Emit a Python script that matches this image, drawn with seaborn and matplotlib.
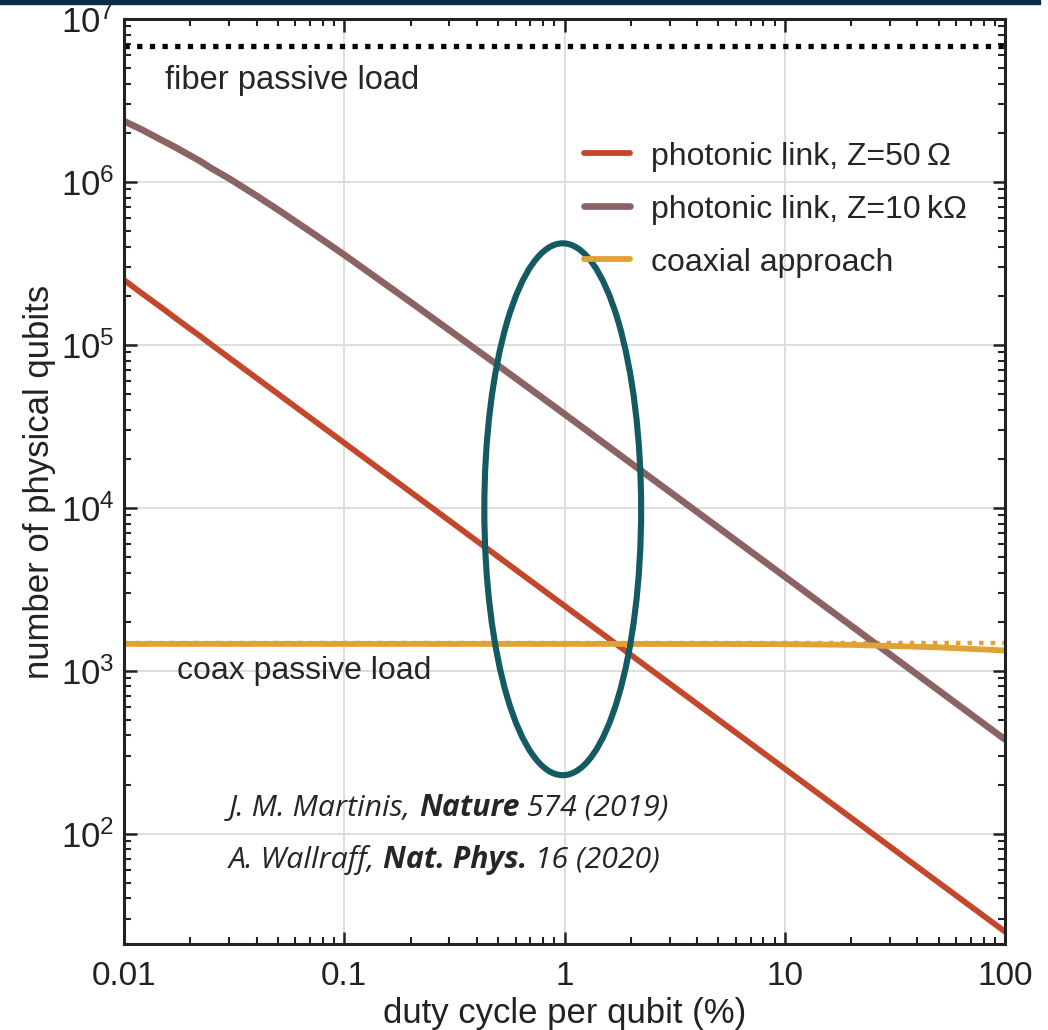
import numpy as np
import matplotlib.pyplot as plt
import pandas as pd
import seaborn as sns
from matplotlib.patches import Ellipse, Rectangle

# values (log-log)
duty = [0.01, 0.012, 0.015, 0.017, 0.02, 0.022, 0.025, 0.03, 0.04, 0.05, 0.07, 0.1, 0.2, 0.5,
        1, 2, 5, 10, 20, 50, 100]
link_50 = [2.5e5, 2.08e5, 1.67e5, 1.47e5, 1.25e5, 1.14e5, 1.0e5, 8.33e4, 6.25e4, 5.0e4, 3.57e4,
           2.5e4, 1.25e4, 5.0e3, 2.5e3, 1.25e3, 500, 250, 125, 50, 25]
link_10k = [2.36e6, 2.1e6, 1.79e6, 1.64e6, 1.45e6, 1.35e6, 1.21e6, 1.05e6, 8.22e5, 6.75e5, 4.97e5,
            3.57e5, 1.83e5, 7.47e4, 3.76e4, 1.88e4, 7.55e3, 3.78e3, 1.89e3, 756, 378]

coax_duty = [0.01, 0.1, 1, 5, 10, 20, 50, 100]
coax = [1460, 1460, 1460, 1458, 1455, 1440, 1390, 1330]

passive_duty = [0.01, 100]
fiber_passive = [6.8e6, 6.8e6]
coax_passive = [1480, 1480]

xticks = [0.01, 0.1, 1, 10, 100]
xtick_labels = ['0.01', '0.1', '1', '10', '100']

c_red = '#c2472b'
c_brown = '#8c6363'
c_orange = '#e0a236'
c_teal = '#135a62'

sns.set_theme(style='ticks')
plt.rcParams['font.family'] = ['Liberation Sans', 'DejaVu Sans']
plt.rcParams['axes.linewidth'] = 2.2

fig = plt.figure(figsize=(10.48, 10.30), dpi=100)
ax = fig.add_axes([124 / 1048, 86 / 1030, 881 / 1048, 925 / 1030])

# navy band at the very top
fig.patches.append(Rectangle((0, 1 - 4 / 1030), 1040 / 1048, 4 / 1030, transform=fig.transFigure,
                             color='#0d2a4e', zorder=10))

df = pd.DataFrame({'duty': duty, 'z50': link_50, 'z10k': link_10k})
dfc = pd.DataFrame({'duty': coax_duty, 'coax': coax})
dfp = pd.DataFrame({'duty': passive_duty, 'fiber': fiber_passive, 'coaxp': coax_passive})

sns.lineplot(data=dfp, x='duty', y='fiber', ax=ax, color='black', lw=3.8,
             linestyle=(0, (1, 1.4)), legend=False)
sns.lineplot(data=dfp, x='duty', y='coaxp', ax=ax, color=c_orange, lw=3.2,
             linestyle=(0, (1, 1.6)), legend=False)
sns.lineplot(data=df, x='duty', y='z50', ax=ax, color=c_red, lw=4.2,
             label='photonic link, Z=50\u2009\u03a9')
sns.lineplot(data=df, x='duty', y='z10k', ax=ax, color=c_brown, lw=4.8,
             label='photonic link, Z=10\u2009k\u03a9')
sns.lineplot(data=dfc, x='duty', y='coax', ax=ax, color=c_orange, lw=4.2,
             label='coaxial approach')

ax.set_xscale('log')
ax.set_yscale('log')
ax.set_xlim(0.01, 100)
ax.set_ylim(21, 1e7)
ax.set_xticks(xticks)
ax.set_xticklabels(xtick_labels, fontsize=24)
ax.grid(True, which='major', color='#dedede', lw=1.4)
ax.tick_params(which='both', direction='in', top=True, right=True, color='#222222',
               labelcolor='#222222')
ax.tick_params(which='major', length=9, width=1.8)
ax.tick_params(which='minor', length=5, width=1.5)
ax.tick_params(axis='y', labelsize=25, pad=7)
ax.tick_params(axis='x', pad=12)
for s in ax.spines.values():
    s.set_color('#222222')

ax.set_xlabel('duty cycle per qubit (%)', fontsize=25, labelpad=4, color='#222222')
ax.set_ylabel('number of physical qubits', fontsize=25, labelpad=3, color='#222222')

ax.text(0.046, 0.934, 'fiber passive load', transform=ax.transAxes, fontsize=23.5, va='center')
ax.text(0.06, 0.295, 'coax passive load', transform=ax.transAxes, fontsize=23, va='center')

ax.legend(loc='upper left', bbox_to_anchor=(0.522, 0.8675), frameon=False, fontsize=23,
          handlelength=1.45, handletextpad=0.65, labelspacing=0.72, borderpad=0, borderaxespad=0)

ax.add_patch(Ellipse((0.498, 0.47), 0.178, 0.575, transform=ax.transAxes, fill=False,
                     ec=c_teal, lw=4.4, zorder=5))

# citations: italic with bold journal names
renderer = fig.canvas.get_renderer()
def cite(y, parts):
    t = None
    for s, w in parts:
        kw = dict(fontsize=21.8, style='italic', fontweight=w, family='Open Sans', va='bottom', ha='left')
        if t is None:
            t = ax.text(0.119, y, s, transform=ax.transAxes, **kw)
        else:
            t = ax.annotate(s, xy=(1, 0), xycoords=t, **kw)
        t.draw(renderer)

cite(0.131, [('J. M. Martinis, ', 'normal'), ('Nature', 'bold'), (' 574 (2019)', 'normal')])
cite(0.075, [('A. Wallraff, ', 'normal'), ('Nat. Phys.', 'bold'), (' 16 (2020)', 'normal')])

fig.savefig('out.png', dpi=100, facecolor='white')
